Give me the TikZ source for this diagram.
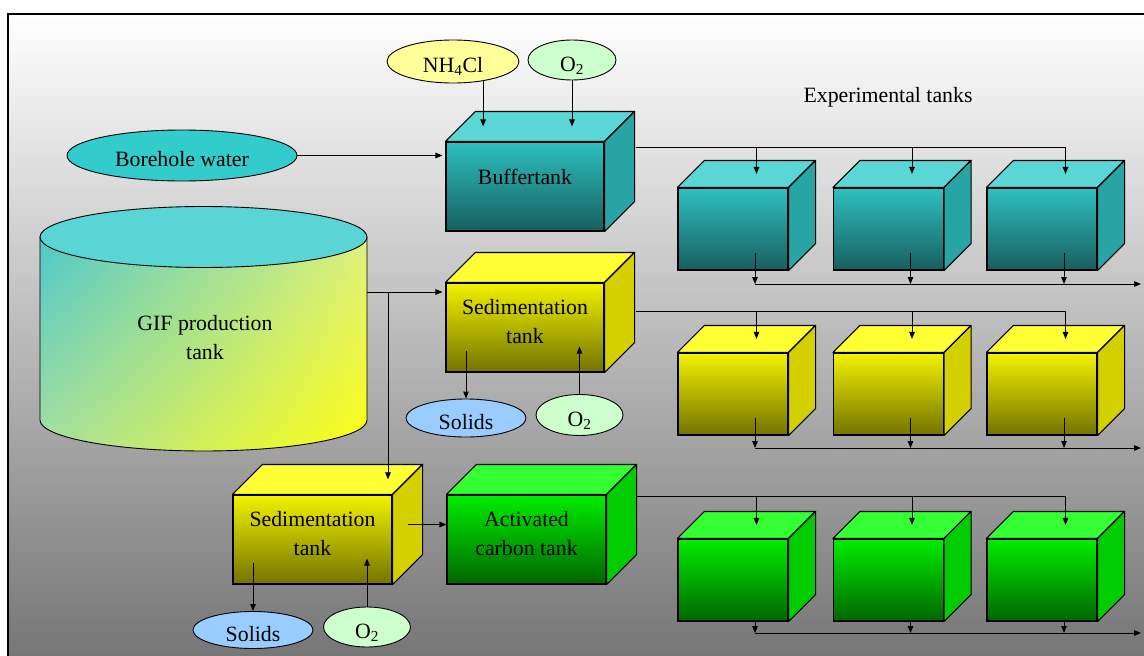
\documentclass[tikz,border=0pt]{standalone}
\usepackage{fontspec}
\setmainfont{Liberation Serif}
\usetikzlibrary{arrows.meta,shapes.geometric,shadings}

% tank colours: hi/lo = front gradient, cap = top face, side = right face
\definecolor{tealhi}{RGB}{46,192,192}
\definecolor{teallo}{RGB}{24,94,94}
\definecolor{tealcap}{RGB}{91,214,214}
\definecolor{tealside}{RGB}{41,164,164}
\definecolor{yelhi}{RGB}{242,242,0}
\definecolor{yello}{RGB}{115,115,0}
\definecolor{yelcap}{RGB}{255,255,51}
\definecolor{yelside}{RGB}{212,208,0}
\definecolor{grnhi}{RGB}{0,238,0}
\definecolor{grnlo}{RGB}{0,102,0}
\definecolor{grncap}{RGB}{51,255,51}
\definecolor{grnside}{RGB}{0,204,0}
\definecolor{borefill}{RGB}{51,204,204}
\definecolor{nhfill}{RGB}{255,255,153}
\definecolor{oxyfill}{RGB}{204,255,204}
\definecolor{solidfill}{RGB}{153,204,255}
\definecolor{cyltop}{RGB}{90,213,213}
\definecolor{cylul}{RGB}{78,200,200}
\definecolor{cylur}{RGB}{222,240,130}
\definecolor{cylll}{RGB}{168,224,160}
\definecolor{cyllr}{RGB}{255,255,16}
\definecolor{bgmid}{RGB}{205,205,205}
\definecolor{bgbot}{RGB}{118,118,118}

\tikzset{
  tankfront/.style={draw=black,line width=1.1pt,top color=#1hi,bottom color=#1lo,
    align=center,inner sep=0pt,text depth=12pt},
  tankedge/.style={draw=black,line width=1.1pt,line join=round},
  supply/.style={ellipse,draw=black,line width=0.9pt,inner sep=0pt,
    text height=22pt,text depth=0pt},
  flow/.style={-{Triangle[length=7pt,width=5.5pt]},line width=1pt}
}

% top and right faces behind a front face node
\newcommand{\tankfaces}[3]{%
  \filldraw[tankedge,fill=#3cap] (#1.north west) -- ++(#2,-#2)
    -- ([shift={(#2,-#2)}]#1.north east) -- (#1.north east) -- cycle;
  \filldraw[tankedge,fill=#3side] (#1.north east) -- ([shift={(#2,-#2)}]#1.north east)
    -- ([shift={(#2,-#2)}]#1.south east) -- (#1.south east) -- cycle;
  \coordinate (#1-top) at ([shift={(#2/2,-#2/2)}]#1.north);
  \coordinate (#1-side) at ([shift={(#2/2,-#2/2)}]#1.east);
}

\begin{document}
\begin{tikzpicture}[x=1pt,y=-1pt,font=\fontsize{21.8pt}{29pt}\selectfont]
  \useasboundingbox (0,0) rectangle (1144,656);
  \fill[white] (0,0) rectangle (1144,656);
  \shade[top color=white,middle color=bgmid,bottom color=bgbot] (8,14) rectangle (1144,656);
  \draw[line width=1.6pt] (8,656) -- (8,14) -- (1144,14);

  % GIF production tank
  \shade[upper left=cylul,upper right=cylur,lower left=cylll,lower right=cyllr]
    (40,237) -- (40,420) arc[start angle=180,end angle=360,x radius=163.5pt,y radius=31pt]
    -- (367,237) -- cycle;
  \draw[line width=0.9pt] (40,237) -- (40,420)
    arc[start angle=180,end angle=360,x radius=163.5pt,y radius=31pt] -- (367,237);
  \filldraw[fill=cyltop,line width=0.9pt] (203.5,237) ellipse[x radius=163.5pt,y radius=30.5pt];
  \node[align=center] (gif) at (205,338) {GIF production\\tank};

  % inputs and outputs
  \node[supply,fill=borefill,minimum width=230pt,minimum height=51pt] (borehole) at (182,155.5) {Borehole water};
  \node[supply,fill=nhfill,minimum width=132pt,minimum height=43pt] (nh4cl) at (453,61.5) {NH\textsubscript{4}Cl};
  \node[supply,fill=oxyfill,minimum width=88pt,minimum height=40pt] (oxyA) at (572,60) {O\textsubscript{2}};
  \node[supply,fill=solidfill,minimum width=120pt,minimum height=38pt] (solidsA) at (466,418) {Solids};
  \node[supply,fill=oxyfill,minimum width=87pt,minimum height=41pt] (oxyB) at (579.5,415) {O\textsubscript{2}};
  \node[supply,fill=solidfill,minimum width=120pt,minimum height=37pt] (solidsB) at (253,630) {Solids};
  \node[supply,fill=oxyfill,minimum width=87pt,minimum height=40pt] (oxyC) at (367,627) {O\textsubscript{2}};

  % treatment tanks
  \node[tankfront=teal,text depth=20pt,minimum width=158pt,minimum height=89pt] (buffer) at (525,186.5) {Buffertank};
  \tankfaces{buffer}{30}{teal}
  \node[tankfront=yel,minimum width=158pt,minimum height=89pt] (sedA) at (525,327.5) {Sedimentation\\tank};
  \tankfaces{sedA}{30}{yel}
  \node[tankfront=yel,minimum width=159pt,minimum height=89pt] (sedB) at (312.5,539.5) {Sedimentation\\tank};
  \tankfaces{sedB}{30}{yel}
  \node[tankfront=grn,minimum width=159pt,minimum height=89pt] (carbon) at (526.5,539.5) {Activated\\carbon tank};
  \tankfaces{carbon}{30}{grn}

  % experimental tanks, three per line
  \node (exptitle) at (888,97) {Experimental tanks};
  \foreach \row/\ty/\rise in {teal/229/18,yel/394/18,grn/580/0}{
    \foreach \i/\tx in {1/733,2/888.5,3/1042}{
      \node[tankfront=\row,minimum width=110pt,minimum height=82pt] (\row\i) at (\tx,\ty) {};
      \tankfaces{\row\i}{27}{\row}
      \coordinate (\row\i-in) at ([xshift=10pt]\row\i-top);
      \coordinate (\row\i-out) at ([shift={(22,-\rise)}]\row\i.south);
    }
  }

  \coordinate (tealfeed) at (636,147);
  \coordinate (yelfeed) at (636,311);
  \coordinate (grnfeed) at (636,496);
  \coordinate (tealdrain) at (1141,284);
  \coordinate (yeldrain) at (1141,448);
  \coordinate (grndrain) at (1141,633);
  \coordinate (gifout) at (367,292);
  \coordinate (split) at (388,292);
  \coordinate (sedA-drop) at ([yshift=22pt]sedA.south);
  \coordinate (sedA-air) at ([yshift=26pt]sedA.south);
  \coordinate (sedB-drop) at ([yshift=22pt]sedB.south);
  \coordinate (sedB-air) at ([yshift=26pt]sedB.south);

  \draw[flow,shorten >=3pt] (borehole.east) -- (borehole.east -| buffer.west);
  \draw[flow] (nh4cl.-33) -- (nh4cl.-33 |- buffer-top);
  \draw[flow] (oxyA.south) -- (oxyA.south |- buffer-top);
  \draw[flow,shorten >=3pt] (gifout) -- (gifout -| sedA.west);
  \draw[flow] (split) -- (split |- sedB-top);
  \draw[flow] (sedB-side) -- (sedB-side -| carbon.west);
  \draw[flow] (solidsA.north |- sedA-drop) -- (solidsA.north);
  \draw[flow] (oxyB.north) -- (oxyB.north |- sedA-air);
  \draw[flow] (solidsB.north |- sedB-drop) -- (solidsB.north);
  \draw[flow] (oxyC.north) -- (oxyC.north |- sedB-air);

  \foreach \row in {teal,yel,grn}{
    \draw[flow] (\row feed) -| (\row3-in);
    \foreach \i in {1,2}
      \draw[flow] (\row feed -| \row\i-in) -- (\row\i-in);
    \foreach \i in {1,2,3}
      \draw[flow] (\row\i-out) -- (\row\i-out |- \row drain);
    \draw[flow] (\row1-out |- \row drain) -- (\row drain);
  }
\end{tikzpicture}
\end{document}
